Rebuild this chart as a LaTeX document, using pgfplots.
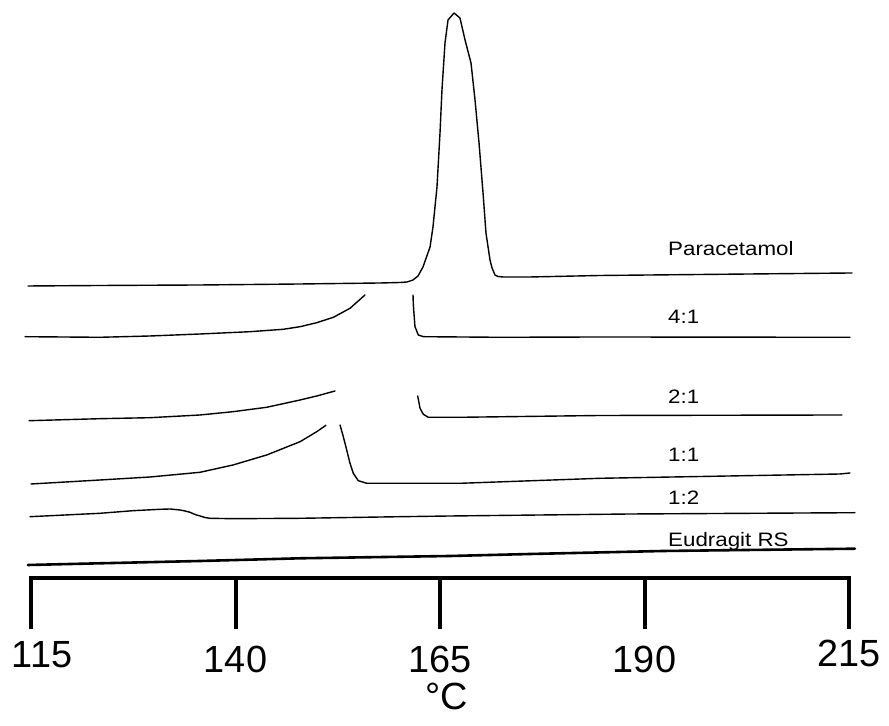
\documentclass[border=0pt]{standalone}
\usepackage{fontspec}
\setmainfont{Liberation Sans}
\usepackage{graphicx}
\usepackage{pgfplots}
\pgfplotsset{compat=1.18}

% sample names written beside each thermogram
\newcommand{\curvelabel}[1]{\scalebox{1.15}[1]{\fontsize{19.5}{22}\selectfont #1}}

\begin{document}
\begin{tikzpicture}[x=1bp,y=1bp]
\useasboundingbox (0,0) rectangle (889,726);
\begin{axis}[
  at={(31bp,148bp)}, anchor=south west,
  scale only axis, width=818bp, height=578bp,
  xmin=115, xmax=215, ymin=148, ymax=726,
  axis x line*=bottom, axis y line=none,
  clip=false,
  xtick={115,140,165,190,215},
  xticklabels={\raisebox{5bp}{\hspace*{22bp}115},140,165,190,\raisebox{6bp}{215}},
  tick align=outside, major tick length=49bp,
  tick style={line width=4bp, black, line cap=rect},
  x axis line style={-, line width=4.5bp, line cap=rect},
  xticklabel style={font=\fontsize{38}{44}\selectfont, anchor=base, yshift=-45bp},
  /pgf/number format/assume math mode=true,
  xlabel={°C},
  xlabel style={at={(0.5086,0)}, anchor=base, yshift=-132bp, font=\fontsize{38}{44}\selectfont},
  curve/.style={black, line width=1.4bp, line join=round, line cap=round},
]

% Paracetamol
\addplot[curve] coordinates {(114.63,440) (123.44,440.5) (135.66,441) (147.89,442)
  (157.67,443) (160.11,443.5) (160.97,444) (161.70,446) (162.31,450) (162.92,459)
  (163.78,479) (164.14,499) (164.63,539) (165.00,593) (165.24,636) (165.61,683)
  (165.98,706) (166.71,713) (167.44,708) (168.06,686) (168.79,663) (169.28,626)
  (169.77,583) (170.26,533) (170.62,493) (171.11,466) (171.36,458) (171.72,451)
  (172.09,449.5) (172.70,449) (176.00,449) (184.56,450.5) (196.78,451.5)
  (209.01,452.5) (215.37,453)};

% 4:1
\addplot[curve] coordinates {(114.27,389.3) (123.44,388.7) (129.55,390) (135.66,392)
  (141.77,394.3) (145.84,396.7) (147.89,399.3) (149.93,403.3) (151.97,408.7)
  (154.00,417.7) (155.83,431)};
\addplot[curve] coordinates {(161.70,431) (161.74,421) (161.94,399.3) (162.35,391)
  (162.96,389.3) (172.33,388.7) (184.56,389) (215.12,388.7)};

% 2:1
\addplot[curve] coordinates {(114.76,305.3) (123.44,307.3) (129.55,308.3) (135.66,311)
  (139.69,314.3) (143.81,318.7) (147.89,326) (149.93,330) (152.16,335)};
\addplot[curve] coordinates {(162.27,330) (162.56,317.7) (162.96,311.7) (163.57,308.7)
  (167.44,308.7) (184.56,310.5) (214.14,311)};

% 1:1
\addplot[curve] coordinates {(115.00,242) (123.44,246) (129.55,249) (135.66,253.7)
  (139.69,261) (143.81,271) (147.89,284.3) (149.93,294.3) (151.06,300.7)};
\addplot[curve] coordinates {(152.78,301) (153.18,289.3) (153.59,276) (154.00,262.7)
  (154.40,252.7) (155.01,245.3) (156.04,242.7) (167.44,242.7) (184.56,247.7)
  (213.90,252) (215.12,253)};

% 1:2
\addplot[curve] coordinates {(114.88,209.3) (123.44,212.7) (127.47,215.3) (130.77,216.7)
  (131.99,217) (133.22,216) (133.83,215) (134.44,213.7) (135.05,211.5) (135.66,210)
  (136.27,208.5) (136.88,207.7) (139.69,207.3) (147.89,207.7) (160.11,209.3)
  (166.22,210) (188.23,212) (215.73,213.3)};

% Eudragit RS
\addplot[black, line width=2.6bp, line cap=round] coordinates {(114.63,161) (123.44,162.7)
  (135.66,165) (147.89,167.7) (166.22,170) (176.00,172) (192.26,175) (215.73,177.3)};

\begin{scope}[every node/.style={anchor=base west, inner sep=0pt}]
\node at (axis cs:192.87,470.7) {\curvelabel{Paracetamol}};
\node at (axis cs:192.87,402.7) {\curvelabel{4:1}};
\node at (axis cs:192.87,322.7) {\curvelabel{2:1}};
\node at (axis cs:192.87,264.3) {\curvelabel{1:1}};
\node at (axis cs:192.87,221.0) {\curvelabel{1:2}};
\node at (axis cs:192.87,179.0) {\curvelabel{Eudragit RS}};
\end{scope}
\end{axis}
\end{tikzpicture}
\end{document}
